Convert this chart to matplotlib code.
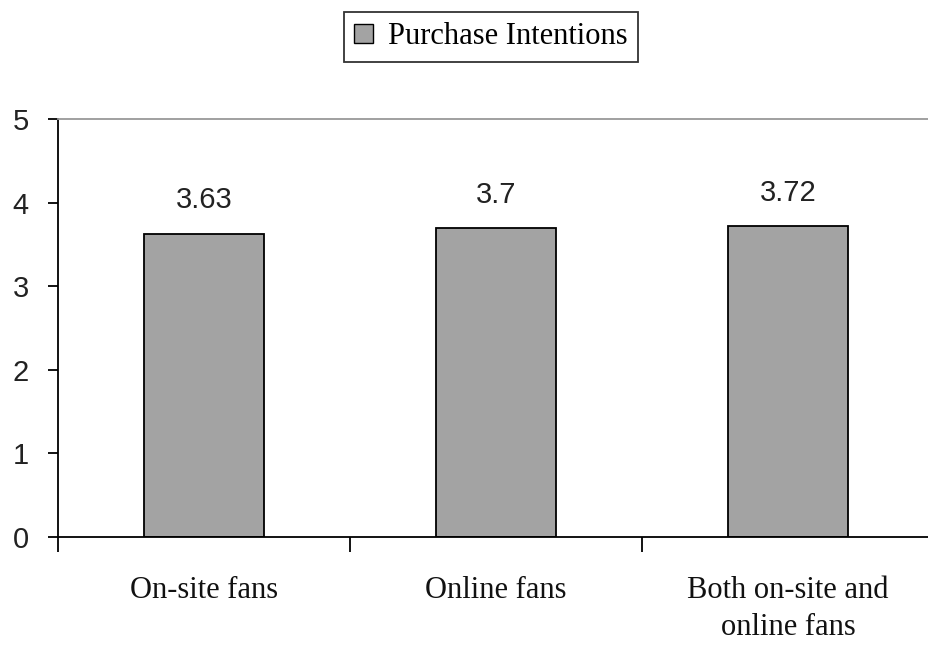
import matplotlib.pyplot as plt
from matplotlib.patches import Patch

categories = ['On-site fans', 'Online fans', 'Both on-site and\nonline fans']
purchase_intentions = [3.63, 3.7, 3.72]
value_labels = ['3.63', '3.7', '3.72']

fig = plt.figure(figsize=(9.29, 6.47), dpi=100)
ax = fig.add_axes([58/929, 1 - 537/647, 871/929, (537 - 119)/647])

x = list(range(len(categories)))
ax.bar(x, purchase_intentions, width=0.41, color='#a3a3a3', edgecolor='black', linewidth=1.3)

for xi, v, s in zip(x, purchase_intentions, value_labels):
    ax.text(xi, v + 0.3, s, ha='center', va='baseline', fontsize=21,
            family='Liberation Sans', color='#222222')

ax.set_xlim(-0.5, -0.5 + 871/292)
ax.set_ylim(0, 5)
ax.set_yticks([0, 1, 2, 3, 4, 5])
ax.set_yticklabels([0, 1, 2, 3, 4, 5], family='Liberation Sans', color='#222222')
ax.tick_params(axis='y', direction='out', length=7, width=1.3, labelsize=21, pad=14)

# categories are labelled between the boundary ticks
ax.set_xticks([-0.5, 0.5, 1.5])
ax.set_xticklabels([])
ax.set_xticks(x, minor=True)
ax.set_xticklabels(categories, minor=True, fontsize=22, family='Liberation Serif', color='#111111')
ax.tick_params(axis='x', which='major', direction='out', length=11, width=1.3)
ax.tick_params(axis='x', which='minor', length=0, pad=28)
for lab in ax.get_xticklabels(minor=True):
    lab.set_linespacing(1.35)

ax.spines['right'].set_visible(False)
ax.spines['top'].set_color('#999999')
ax.spines['top'].set_linewidth(1.3)
ax.spines['left'].set_linewidth(1.3)
ax.spines['bottom'].set_linewidth(1.3)

leg = fig.legend(handles=[Patch(facecolor='#a3a3a3', edgecolor='black', label='Purchase Intentions')],
                 loc='center', bbox_to_anchor=(491/929, 1 - 37/647), fancybox=False,
                 edgecolor='black', prop={'family': 'Liberation Serif', 'size': 22},
                 handlelength=0.6, handleheight=0.6, handletextpad=0.5, borderpad=0.35,
                 borderaxespad=0)
leg.get_frame().set_linewidth(1.3)

fig.savefig('out.png', dpi=100)
